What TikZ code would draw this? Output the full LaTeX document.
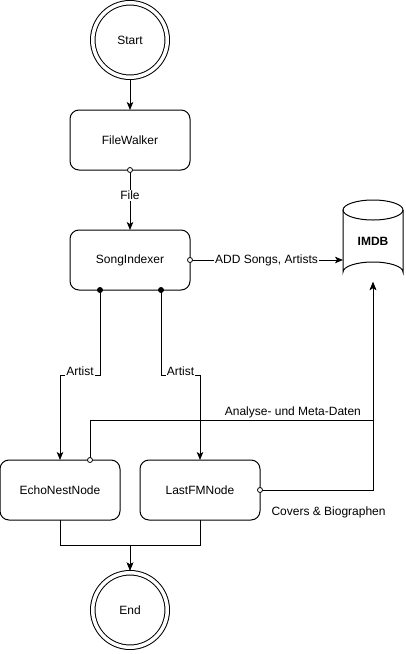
\documentclass[tikz,border=0pt]{standalone}
\usepackage{fontspec}
\setmainfont{Liberation Sans}
\usetikzlibrary{arrows.meta,calc}
\begin{document}
\begin{tikzpicture}[x=1pt,y=-1pt,line width=1pt,
  every node/.style={font=\fontsize{12}{14}\selectfont},
  box/.style={draw,rounded corners=9pt,minimum width=120pt,minimum height=60pt,inner sep=0pt,outer sep=0pt},
  term/.style={draw,circle,double,double distance=3.5pt,minimum size=74.5pt,inner sep=0pt,outer sep=2.25pt},
  arr/.style={-{Stealth[length=8pt,width=6.5pt,inset=2pt]}},
  lbl/.style={fill=white,inner sep=1pt},
  ocirc/.style={circle,draw,fill=white,inner sep=0pt,minimum size=5pt,line width=0.8pt},
  dotn/.style={circle,fill=black,inner sep=0pt,minimum size=6pt}]
\useasboundingbox (0,0) rectangle (405,654);
\fill[white] (0,0) rectangle (405,654);

\node[term] (start) at (130,40) {Start};
\node[box] (fw) at (130,140) {FileWalker};
\node[box] (si) at (130,260) {SongIndexer};
\node[box] (en) at (60,490) {EchoNestNode};
\node[box] (lf) at (200,490) {LastFMNode};
\node[term] (end) at (130,610) {End};

% IMDB cylinder
\draw (373,210) ellipse [x radius=30, y radius=10];
\draw (343,210) -- (343,272) arc[start angle=180, end angle=360, x radius=30, y radius=10] -- (403,210);
\node[minimum width=60pt,minimum height=82pt,inner sep=0pt,outer sep=0pt,
  font=\fontsize{12}{14}\selectfont\bfseries] (imdb) at (373,241) {IMDB};

\coordinate (d1) at ($(si.south)+(-30,0)$);
\coordinate (d2) at ($(si.south)+(31,0)$);
\coordinate (a1) at ($(en.north)+(30,0)$);

\draw[arr] (start) -- (fw);
\draw[arr] (fw) -- node[lbl,pos=0.42] (lfile) {File} (si);
\draw[arr] (si.east) -- node[lbl] (ladd) {ADD Songs, Artists} (si.east -| imdb.west);
\draw[arr] (d1) -- (100,375) -- node[lbl,yshift=4pt] (lart1) {Artist} (60,375) -- (en.north);
\draw[arr] (d2) -- (161,375) -- node[lbl,yshift=4pt] (lart2) {Artist} (200,375) -- (lf.north);
\draw[arr] (a1) -- (90,420) -- node[pos=0.717,anchor=south,inner sep=2pt] (lana) {Analyse- und Meta-Daten} (373,420) -- (imdb.south);
\draw[arr] (lf.east) -- (lf.east -| imdb.south) -- (imdb.south);
\node[anchor=west,inner sep=0pt] (lcov) at (271,512) {Covers \& Biographen};
\draw[arr] (en.south) |- (130,545) -- (end.north);
\draw[arr] (lf.south) |- (130,545) -- (end.north);

\node[ocirc] (o1) at (fw.south) {};
\node[ocirc] (o2) at (si.east) {};
\node[ocirc] (o3) at (a1) {};
\node[ocirc] (o4) at (lf.east) {};
\node[dotn] (p1) at (d1) {};
\node[dotn] (p2) at (d2) {};
\end{tikzpicture}
\end{document}
